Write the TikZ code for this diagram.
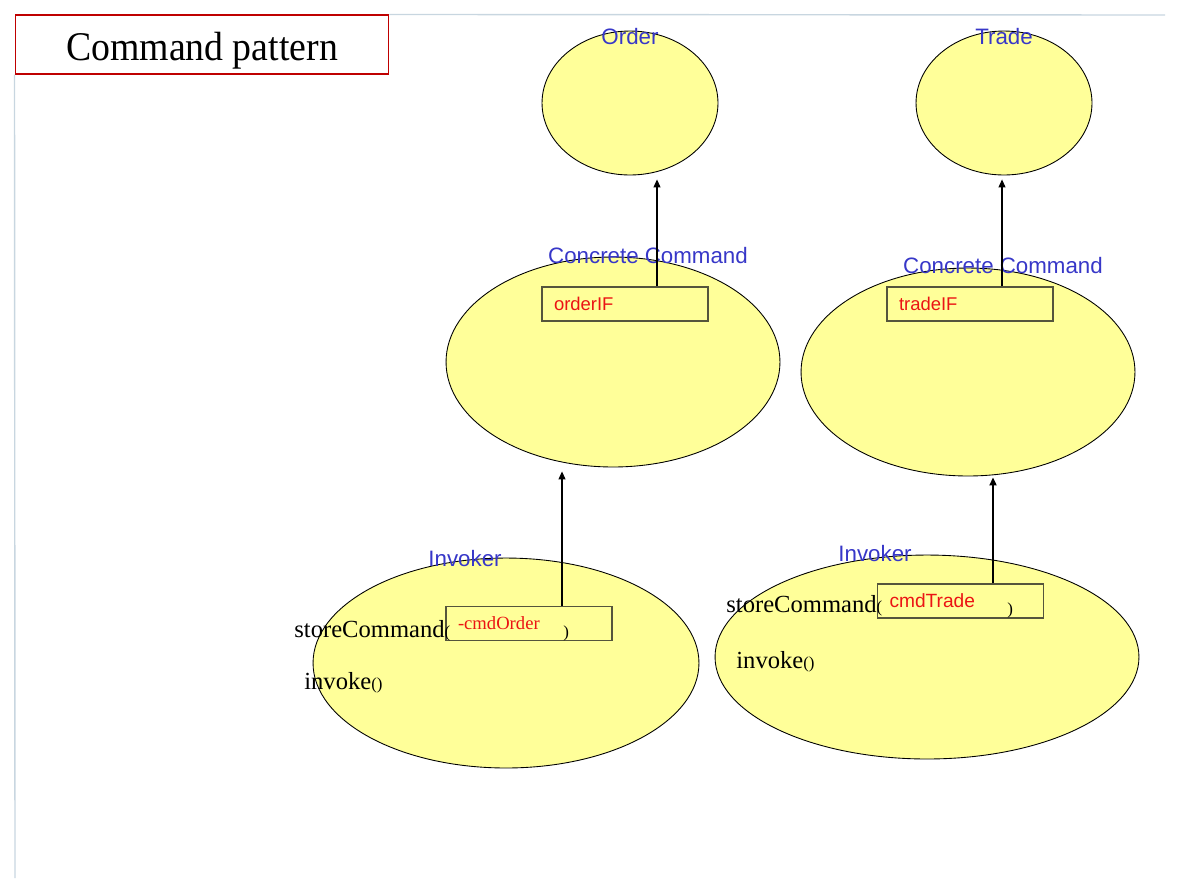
\documentclass[tikz,border=0pt]{standalone}
\usepackage{fontspec}
\setmainfont{Liberation Serif}
\setsansfont{Liberation Sans}
\usetikzlibrary{shapes.geometric,arrows.meta}
\definecolor{roleblue}{RGB}{55,55,200}
\definecolor{fieldred}{RGB}{235,20,20}
\definecolor{blobfill}{RGB}{255,255,153}
\definecolor{boxline}{RGB}{85,85,60}
\definecolor{frameline}{RGB}{200,214,224}
\newcommand{\smallparen}[1]{{\fontsize{9.6}{11}\selectfont #1}}

\begin{document}
\begin{tikzpicture}[
  x=0.02cm,
  y=-0.02cm,
  blob/.style={
    ellipse,
    draw=black,
    fill=blobfill,
    line width=0.5pt,
    inner sep=0pt
  },
  role/.style={
    text=roleblue,
    font=\sffamily\fontsize{12.7}{14}\selectfont,
    inner sep=0pt
  },
  field/.style={
    draw=boxline,
    line width=0.8pt,
    minimum width=3.32cm,
    minimum height=0.68cm,
    text width=2.84cm,
    inner xsep=0.24cm,
    inner ysep=0pt,
    align=left,
    text=fieldred
  },
  call/.style={
    anchor=base west,
    inner sep=0pt,
    font=\fontsize{14}{16}\selectfont
  },
  link/.style={
    -{Triangle[length=0.16cm,width=0.14cm]},
    line width=0.6pt,
    shorten >=0.08cm
  },
]
\useasboundingbox (0,0) rectangle (1182,894);

% frame
\node[draw=red!75!black, line width=0.6pt, minimum width=7.48cm, minimum height=1.18cm,
  inner ysep=0pt, text height=0.7cm, text depth=0.08cm,
  font=\fontsize{21.5}{24}\selectfont] (title) at (202,44.5) {\scalebox{1}[1.08]{Command pattern}};
\draw[frameline, line width=0.8pt] (title.north east) -- (1165,15);
\draw[frameline, line width=0.8pt] (title.south west) -- (15,878);

% receivers
\node[blob, minimum width=3.52cm, minimum height=2.88cm] (order) at (630,103) {};
\node[blob, minimum width=3.52cm, minimum height=2.88cm] (trade) at (1004,103) {};
\node[role] (ordername) at (630,37) {Order};
\node[role] (tradename) at (1004,37) {Trade};

% concrete commands
\node[blob, minimum width=6.68cm, minimum height=4.2cm] (ordercmd) at (613,362) {};
\node[blob, minimum width=6.68cm, minimum height=4.16cm] (tradecmd) at (968,372) {};
\node[role] (ordercmdname) at (648,256) {Concrete Command};
\node[role] (tradecmdname) at (1003,266) {Concrete Command};
\node[field, font=\sffamily\fontsize{10.5}{12}\selectfont] (orderIF) at (625,304) {orderIF};
\node[field, font=\sffamily\fontsize{10.5}{12}\selectfont] (tradeIF) at (970,304) {tradeIF};

% invokers
\node[blob, minimum width=7.72cm, minimum height=4.2cm] (orderinv) at (506,663) {};
\node[blob, minimum width=8.48cm, minimum height=4.08cm] (tradeinv) at (927,657) {};
\node[role] (orderinvname) at (465,559) {Invoker};
\node[role] (tradeinvname) at (875,554) {Invoker};
\node[field, font=\fontsize{10.6}{12}\selectfont] (cmdOrder) at (529,623.5) {-cmdOrder};
\node[field, font=\sffamily\fontsize{10.9}{12}\selectfont] (cmdTrade) at (960.5,601) {cmdTrade};
\node[call] (orderstore) at (294,637) {storeCommand\smallparen{(}};
\node[call] (orderclose) at (563,637) {\smallparen{)}};
\node[call] (orderinvoke) at (304,689) {invoke\smallparen{()}};
\node[call] (tradestore) at (726,612) {storeCommand\smallparen{(}};
\node[call] (tradeclose) at (1007,614) {\smallparen{)}};
\node[call] (tradeinvoke) at (736,668) {invoke\smallparen{()}};

% links
\draw[link] (orderIF.north -| 657,0) -- (order.south -| 657,0);
\draw[link] (tradeIF.north -| 1002,0) -- (trade.south -| 1002,0);
\draw[link] (cmdOrder.north -| 562,0) -- (ordercmd.south -| 562,0);
\draw[link, line width=1.1pt, shorten >=0.02cm] (cmdTrade.north -| 993,0) -- (tradecmd.south -| 993,0);
\end{tikzpicture}
\end{document}
